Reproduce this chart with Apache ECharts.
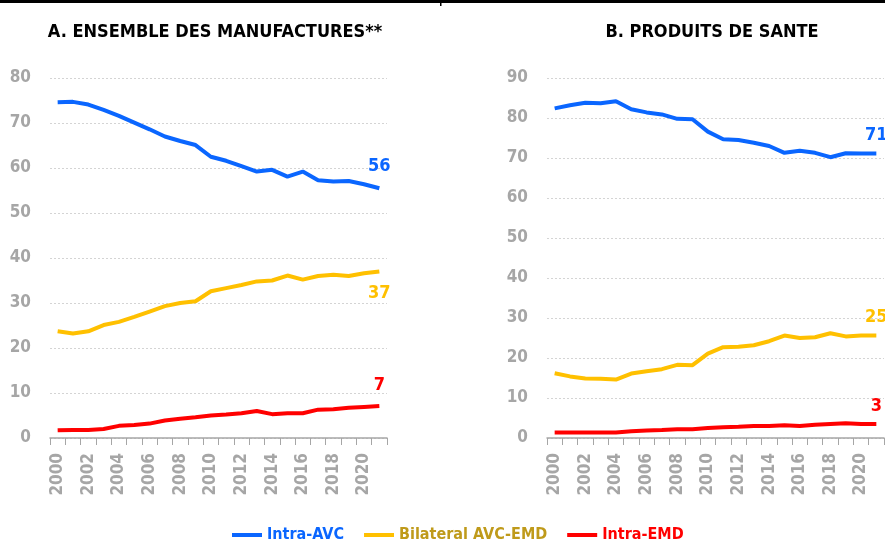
<!DOCTYPE html>
<html>
<head>
<meta charset="utf-8">
<title>Manufactures / Produits de santé</title>
<script src="https://cdn.jsdelivr.net/npm/echarts@6/dist/echarts.min.js"></script>
<style>
  html, body { margin: 0; padding: 0; background: #fff; }
  #chart { width: 885px; height: 550px; }
</style>
</head>
<body>
<div id="chart"></div>
<script type="text/javascript">
// années
var years = ['2000','2001','2002','2003','2004','2005','2006','2007','2008','2009','2010',
             '2011','2012','2013','2014','2015','2016','2017','2018','2019','2020','2021'];

// A. ensemble des manufactures
var manuIntraAvc = [74.6,74.7,74.1,72.9,71.6,70.1,68.6,67.0,66.0,65.1,62.5,61.6,60.4,59.2,59.6,58.1,59.2,57.3,57.0,57.1,56.4,55.5];
var manuBilateral = [23.7,23.2,23.7,25.1,25.8,26.9,28.1,29.3,30.0,30.4,32.6,33.3,34.0,34.8,35.0,36.1,35.2,36.0,36.3,36.0,36.6,37.0];
var manuIntraEmd = [1.7,1.8,1.8,2.0,2.7,2.9,3.2,3.9,4.3,4.6,5.0,5.2,5.5,6.0,5.3,5.5,5.5,6.3,6.4,6.7,6.9,7.1];
var manuEndLabels = ['56','37','7'];

// B. produits de santé
var santeIntraAvc = [82.4,83.2,83.8,83.7,84.2,82.2,81.4,80.9,79.8,79.7,76.6,74.7,74.5,73.8,73.0,71.3,71.8,71.3,70.2,71.2,71.1,71.1];
var santeBilateral = [16.2,15.4,14.9,14.8,14.6,16.1,16.7,17.2,18.3,18.2,21.1,22.7,22.8,23.2,24.2,25.6,25.0,25.2,26.2,25.4,25.6,25.6];
var santeIntraEmd = [1.4,1.4,1.4,1.4,1.4,1.7,1.9,2.0,2.2,2.2,2.5,2.7,2.8,3.0,3.0,3.2,3.0,3.3,3.5,3.7,3.5,3.5];
var santeEndLabels = ['71','25','3'];

var seriesNames = ['Intra-AVC', 'Bilateral AVC-EMD', 'Intra-EMD'];
var lineColors = ['#0a66ff', '#ffc000', '#ff0000'];
var legendColors = ['#0a66ff', '#bf9a1a', '#ff0000'];

var FONT = '"Liberation Sans Narrow", "DejaVu Sans Condensed", "Liberation Sans", sans-serif';
var GREY = '#a6a6a6';

// étiquette sur le dernier point
function withEndLabel(values, text, color, pos, dist) {
	var data = values.slice();
	var last = data.length - 1;
	data[last] = {
		value: values[last],
		label: {
			show: true,
			position: pos,
			distance: dist,
			formatter: text,
			color: color,
			fontFamily: FONT,
			fontWeight: 'bold',
			fontSize: 18
		}
	};
	return data;
}

function makeSeries(idx, name, values, text, pos, dist) {
	var k = seriesNames.indexOf(name);
	return {
		name: name,
		type: 'line',
		xAxisIndex: idx,
		yAxisIndex: idx,
		data: withEndLabel(values, text, lineColors[k], pos, dist),
		// symboles minuscules, cachés sous la ligne : ils portent l'étiquette finale
		symbol: 'circle',
		symbolSize: 0.01,
		showSymbol: true,
		showAllSymbol: true,
		lineStyle: { width: 4, color: lineColors[k] },
		itemStyle: { color: lineColors[k] },
		z: 3 - k,
		animation: false
	};
}

function makeXAxis(idx) {
	return {
		type: 'category',
		gridIndex: idx,
		data: years,
		boundaryGap: true,
		axisLine: { lineStyle: { color: GREY, width: 1.5 } },
		axisTick: { show: true, interval: 0, length: 7, lineStyle: { color: GREY } },
		axisLabel: {
			interval: 1,
			rotate: 90,
			margin: 15,
			color: GREY,
			fontFamily: FONT,
			fontWeight: 'bold',
			fontSize: 17
		},
		splitLine: { show: false }
	};
}

function makeYAxis(idx, max) {
	return {
		type: 'value',
		gridIndex: idx,
		min: 0,
		max: max,
		interval: 10,
		axisLine: { show: false },
		axisTick: { show: false },
		axisLabel: {
			margin: 19,
			color: GREY,
			fontFamily: FONT,
			fontWeight: 'bold',
			fontSize: 17
		},
		splitLine: { lineStyle: { color: '#d4d4d4', type: [2, 2], width: 1 } }
	};
}

var option = {
	backgroundColor: '#fff',
	animation: false,
	title: [
		{
			text: 'A. ENSEMBLE DES MANUFACTURES**',
			left: 210, top: 18, textAlign: 'center',
			textStyle: { fontFamily: FONT, fontWeight: 'bold', fontSize: 18, color: '#000' }
		},
		{
			text: 'B. PRODUITS DE SANTE',
			left: 707, top: 18, textAlign: 'center',
			textStyle: { fontFamily: FONT, fontWeight: 'bold', fontSize: 18, color: '#000' }
		}
	],
	legend: {
		bottom: 2,
		left: 227,
		icon: 'rect',
		itemWidth: 30,
		itemHeight: 4,
		itemGap: 20,
		data: seriesNames.map(function (n, i) {
			return { name: n, textStyle: { color: legendColors[i] } };
		}),
		textStyle: { fontFamily: FONT, fontWeight: 'bold', fontSize: 16 }
	},
	grid: [
		{ left: 50, right: 498, top: 78, bottom: 112 },
		{ left: 547, right: 1, top: 78, bottom: 112 }
	],
	xAxis: [makeXAxis(0), makeXAxis(1)],
	yAxis: [makeYAxis(0, 80), makeYAxis(1, 90)],
	series: [
		makeSeries(0, 'Intra-AVC', manuIntraAvc, manuEndLabels[0], 'top', 13),
		makeSeries(0, 'Bilateral AVC-EMD', manuBilateral, manuEndLabels[1], 'bottom', 13),
		makeSeries(0, 'Intra-EMD', manuIntraEmd, manuEndLabels[2], 'top', 12),
		makeSeries(1, 'Intra-AVC', santeIntraAvc, santeEndLabels[0], 'top', 9),
		makeSeries(1, 'Bilateral AVC-EMD', santeBilateral, santeEndLabels[1], 'top', 9),
		makeSeries(1, 'Intra-EMD', santeIntraEmd, santeEndLabels[2], 'top', 9)
	],
	graphic: [
		{ type: 'rect', shape: { x: 0, y: 0, width: 885, height: 3 }, style: { fill: '#000' } },
		{ type: 'rect', shape: { x: 440, y: 3, width: 1.5, height: 3 }, style: { fill: '#000' } }
	]
};

var myChart = echarts.init(document.getElementById('chart'));
myChart.setOption(option);
</script>
</body>
</html>
